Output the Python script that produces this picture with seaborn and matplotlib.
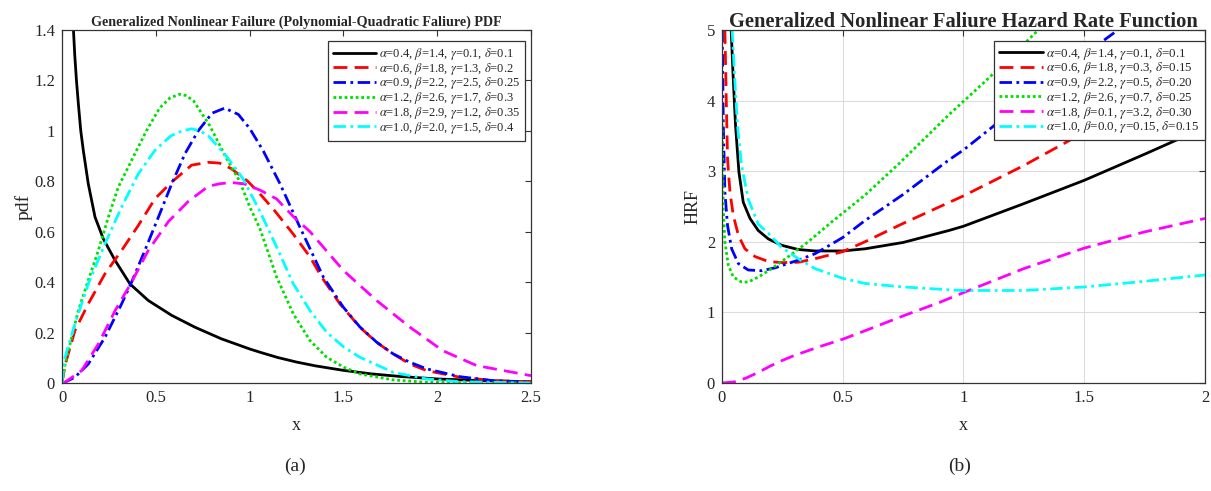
import numpy as np
import pandas as pd
import matplotlib
matplotlib.use("Agg")
import matplotlib.pyplot as plt
import seaborn as sns

# ---------------- panel (a): probability density ----------------
pdf_labels = [
    r"$\alpha$=0.4, $\beta$=1.4, $\gamma$=0.1, $\delta$=0.1",
    r"$\alpha$=0.6, $\beta$=1.8, $\gamma$=1.3, $\delta$=0.2",
    r"$\alpha$=0.9, $\beta$=2.2, $\gamma$=2.5, $\delta$=0.25",
    r"$\alpha$=1.2, $\beta$=2.6, $\gamma$=1.7, $\delta$=0.3",
    r"$\alpha$=1.8, $\beta$=2.9, $\gamma$=1.2, $\delta$=0.35",
    r"$\alpha$=1.0, $\beta$=2.0, $\gamma$=1.5, $\delta$=0.4",
]

pdf_x_black = [0.061, 0.068, 0.077, 0.088, 0.1, 0.114, 0.14, 0.176, 0.22, 0.283, 0.362,
               0.46, 0.585, 0.709, 0.85, 1.0, 1.055, 1.15, 1.25, 1.35, 1.5, 1.65, 1.8,
               2.0, 2.25, 2.5]
pdf_y_black = [1.4, 1.3, 1.2, 1.1, 1.0, 0.92, 0.79, 0.658, 0.572, 0.486, 0.393,
               0.327, 0.268, 0.221, 0.175, 0.135, 0.122, 0.101, 0.083, 0.068, 0.05, 0.036,
               0.026, 0.016, 0.009, 0.005]

pdf_x_red = [0, 0.016, 0.069, 0.14, 0.229, 0.318, 0.407, 0.496, 0.585, 0.691, 0.78, 0.84,
             0.9, 0.99, 1.055, 1.126, 1.233, 1.322, 1.384, 1.482, 1.588, 1.677, 1.766,
             1.855, 1.944, 2.12, 2.3, 2.5]
pdf_y_red = [0, 0.07, 0.208, 0.314, 0.433, 0.526, 0.625, 0.731, 0.797, 0.864, 0.875, 0.872,
             0.851, 0.8, 0.75, 0.69, 0.59, 0.5, 0.42, 0.313, 0.221, 0.161, 0.115,
             0.075, 0.049, 0.023, 0.009, 0.005]

pdf_x_blue = [0, 0.016, 0.069, 0.14, 0.229, 0.318, 0.371, 0.442, 0.514, 0.585, 0.656, 0.726,
              0.8, 0.867, 0.94, 1.0, 1.073, 1.162, 1.268, 1.393, 1.5, 1.588, 1.677, 1.766,
              1.855, 1.944, 2.12, 2.3, 2.5]
pdf_y_blue = [0, 0.003, 0.023, 0.075, 0.181, 0.314, 0.4, 0.526, 0.658, 0.79, 0.91, 1.0,
              1.07, 1.09, 1.065, 1.01, 0.92, 0.79, 0.618, 0.42, 0.30, 0.222, 0.162, 0.115,
              0.082, 0.056, 0.025, 0.009, 0.003]

pdf_x_green = [0, 0.016, 0.034, 0.087, 0.14, 0.194, 0.247, 0.3, 0.389, 0.45, 0.52, 0.575,
               0.625, 0.66, 0.7, 0.788, 0.87, 0.947, 1.0, 1.055, 1.144, 1.233, 1.322,
               1.411, 1.503, 1.588, 1.766, 1.944, 2.2, 2.5]
pdf_y_green = [0, 0.07, 0.128, 0.287, 0.407, 0.526, 0.658, 0.777, 0.91, 1.0, 1.09, 1.13,
               1.145, 1.14, 1.12, 1.02, 0.9, 0.8, 0.7, 0.612, 0.42, 0.274, 0.168,
               0.102, 0.062, 0.036, 0.012, 0.003, 0.0005, 0.0]

pdf_x_magenta = [0, 0.016, 0.105, 0.194, 0.283, 0.371, 0.46, 0.567, 0.673, 0.78, 0.84, 0.9,
                 0.97, 1.055, 1.144, 1.233, 1.322, 1.5, 1.677, 1.855, 2.03, 2.21, 2.5]
pdf_y_magenta = [0, 0.003, 0.049, 0.155, 0.287, 0.4, 0.526, 0.64, 0.72, 0.78, 0.79, 0.795,
                 0.79, 0.765, 0.73, 0.66, 0.6, 0.446, 0.327, 0.221, 0.128, 0.069, 0.029]

pdf_x_cyan = [0, 0.016, 0.069, 0.14, 0.229, 0.318, 0.407, 0.496, 0.58, 0.635, 0.69, 0.735,
              0.78, 0.876, 0.965, 1.055, 1.106, 1.144, 1.233, 1.322, 1.411, 1.503, 1.588,
              1.766, 1.944, 2.12, 2.5]
pdf_y_cyan = [0, 0.102, 0.234, 0.393, 0.552, 0.698, 0.83, 0.923, 0.98, 0.998, 1.008, 1.0,
              0.98, 0.9, 0.81, 0.68, 0.6, 0.539, 0.393, 0.287, 0.201, 0.142, 0.102,
              0.042, 0.016, 0.005, 0.0]

# ---------------- panel (b): hazard rate ----------------
hrf_labels = [
    r"$\alpha$=0.4, $\beta$=1.4, $\gamma$=0.1, $\delta$=0.1",
    r"$\alpha$=0.6, $\beta$=1.8, $\gamma$=0.3, $\delta$=0.15",
    r"$\alpha$=0.9, $\beta$=2.2, $\gamma$=0.5, $\delta$=0.20",
    r"$\alpha$=1.2, $\beta$=2.6, $\gamma$=0.7, $\delta$=0.25",
    r"$\alpha$=1.8, $\beta$=0.1, $\gamma$=3.2, $\delta$=0.30",
    r"$\alpha$=1.0, $\beta$=0.0, $\gamma$=0.15, $\delta$=0.15",
]

hrf_x_black = [0.038, 0.046, 0.056, 0.07, 0.088, 0.116, 0.15, 0.192, 0.247, 0.316, 0.385,
               0.5, 0.592, 0.75, 0.94, 1.0, 1.25, 1.5, 1.75, 2.0]
hrf_y_black = [5.0, 4.35, 3.65, 2.99, 2.56, 2.33, 2.16, 2.04, 1.95, 1.89, 1.87,
               1.87, 1.9, 1.99, 2.16, 2.22, 2.54, 2.87, 3.24, 3.62]

hrf_x_red = [0.012, 0.017, 0.023, 0.033, 0.047, 0.068, 0.095, 0.137, 0.192, 0.247, 0.316,
             0.385, 0.5, 0.592, 0.75, 1.0, 1.25, 1.5, 1.75, 2.0]
hrf_y_red = [5.0, 4.12, 3.17, 2.7, 2.37, 2.09, 1.9, 1.79, 1.72, 1.705, 1.71,
             1.76, 1.86, 2.0, 2.26, 2.65, 3.08, 3.55, 4.1, 4.75]

hrf_x_blue = [0.001, 0.0055, 0.012, 0.023, 0.04, 0.068, 0.109, 0.164, 0.219, 0.316, 0.385,
              0.5, 0.592, 0.75, 0.94, 1.0, 1.25, 1.5, 1.64]
hrf_y_blue = [5.0, 3.65, 2.7, 2.23, 1.9, 1.69, 1.6, 1.59, 1.63, 1.74, 1.83,
              2.06, 2.3, 2.67, 3.16, 3.3, 3.98, 4.65, 5.0]

hrf_x_green = [0.0, 0.003, 0.0055, 0.012, 0.026, 0.047, 0.081, 0.109, 0.15, 0.206, 0.275,
               0.357, 0.454, 0.592, 0.734, 0.94, 1.083, 1.2, 1.31]
hrf_y_green = [3.74, 3.17, 2.47, 2.0, 1.67, 1.5, 1.43, 1.43, 1.5, 1.62, 1.79,
               2.0, 2.28, 2.66, 3.11, 3.8, 4.25, 4.63, 5.0]

hrf_x_magenta = [0, 0.05, 0.1, 0.15, 0.2, 0.25, 0.3, 0.4, 0.5, 0.6, 0.75, 0.9, 1.0, 1.25,
                 1.5, 1.75, 2.0]
hrf_y_magenta = [0, 0.015, 0.07, 0.15, 0.24, 0.32, 0.39, 0.51, 0.62, 0.75, 0.95, 1.14, 1.28,
                 1.62, 1.91, 2.14, 2.33]

hrf_x_cyan = [0.042, 0.052, 0.064, 0.081, 0.109, 0.15, 0.192, 0.247, 0.316, 0.385, 0.502,
              0.592, 0.75, 0.94, 1.0, 1.25, 1.5, 1.75, 2.0]
hrf_y_cyan = [5.0, 4.35, 3.65, 3.08, 2.6, 2.25, 2.12, 1.92, 1.76, 1.62, 1.48,
              1.41, 1.36, 1.32, 1.31, 1.31, 1.36, 1.44, 1.53]

pdf_xticks = [0, 0.5, 1, 1.5, 2, 2.5]
pdf_yticks = [0, 0.2, 0.4, 0.6, 0.8, 1.0, 1.2, 1.4]
pdf_yticklabels = ["0", "0.2", "0.4", "0.6", "0.8", "1", "1.2", "1.4"]
hrf_xticks = [0, 0.5, 1, 1.5, 2]
hrf_yticks = [0, 1, 2, 3, 4, 5]

# ---------------- styling ----------------
colors = ["#000000", "#ff0000", "#0000ff", "#00e000", "#ff00ff", "#00ffff"]
styles = ["-", (0, (5, 2.6)), (0, (4.5, 1.6, 1.0, 1.6)), (0, (1.0, 1.0)),
          (0, (5, 2.6)), (0, (4.5, 1.6, 1.0, 1.6))]
frame = "#333333"

sns.set_style("white", {"axes.edgecolor": frame, "xtick.direction": "in",
                        "ytick.direction": "in"})
plt.rcParams["font.family"] = ["Liberation Serif", "DejaVu Serif"]
plt.rcParams["mathtext.fontset"] = "stix"
plt.rcParams["axes.linewidth"] = 0.9

fig = plt.figure(figsize=(12.11, 4.91), dpi=100)
ax1 = fig.add_axes([0.0512, 0.22, 0.3873, 0.719])
ax2 = fig.add_axes([0.5962, 0.22, 0.3988, 0.719])


def draw(ax, xs, ys, labels):
    for x, y, c, ls, lab in zip(xs, ys, colors, styles, labels):
        df = pd.DataFrame({"x": x, "y": y})
        sns.lineplot(data=df, x="x", y="y", ax=ax, color=c, linewidth=2.0,
                     linestyle=ls, label=lab, sort=False, estimator=None)


draw(ax1,
     [pdf_x_black, pdf_x_red, pdf_x_blue, pdf_x_green, pdf_x_magenta, pdf_x_cyan],
     [pdf_y_black, pdf_y_red, pdf_y_blue, pdf_y_green, pdf_y_magenta, pdf_y_cyan],
     pdf_labels)
draw(ax2,
     [hrf_x_black, hrf_x_red, hrf_x_blue, hrf_x_green, hrf_x_magenta, hrf_x_cyan],
     [hrf_y_black, hrf_y_red, hrf_y_blue, hrf_y_green, hrf_y_magenta, hrf_y_cyan],
     hrf_labels)

for ax in (ax1, ax2):
    ax.tick_params(axis="both", which="both", direction="in", length=4.5, width=0.8,
                   color=frame, top=True, right=True, labelsize=12, pad=5)
    for sp in ax.spines.values():
        sp.set_visible(True)
        sp.set_color(frame)

legend_kw = dict(loc="upper right", borderaxespad=0, handlelength=3.4,
                 handletextpad=0.25, labelspacing=-0.1, borderpad=0.4, frameon=True,
                 fancybox=False, framealpha=1, edgecolor=frame)

# panel (a) axes
ax1.set_xlim(0, 2.5)
ax1.set_ylim(0, 1.4)
ax1.set_xticks(pdf_xticks)
ax1.set_xticklabels(["0", "0.5", "1", "1.5", "2", "2.5"])
ax1.set_yticks(pdf_yticks)
ax1.set_yticklabels(pdf_yticklabels)
ax1.set_xlabel("x", fontsize=13, labelpad=8)
ax1.set_ylabel("pdf", fontsize=14, labelpad=1)
ax1.set_title("Generalized Nonlinear Failure (Polynomial-Quadratic Faliure) PDF",
              fontsize=10.2, fontweight="bold", pad=3)
leg1 = ax1.legend(bbox_to_anchor=(0.987, 0.969), fontsize=9, **legend_kw)
leg1.get_frame().set_linewidth(0.9)

# panel (b) axes
ax2.set_xlim(0, 2)
ax2.set_ylim(0, 5)
ax2.set_xticks(hrf_xticks)
ax2.set_xticklabels(["0", "0.5", "1", "1.5", "2"])
ax2.set_yticks(hrf_yticks)
ax2.grid(True, color="#dcdcdc", linewidth=0.8)
ax2.set_axisbelow(True)
ax2.set_xlabel("x", fontsize=13, labelpad=8)
ax2.set_ylabel("HRF", fontsize=13, labelpad=4)
ax2.set_title("Generalized Nonlinear Faliure Hazard Rate Function",
              fontsize=14.8, fontweight="bold", pad=2)
leg2 = ax2.legend(bbox_to_anchor=(1.0, 0.97), fontsize=9.4, **legend_kw)
leg2.get_frame().set_linewidth(0.9)

fig.text(295 / 1211, 1 - 466 / 491, "(a)", ha="center", va="center", fontsize=14)
fig.text(960 / 1211, 1 - 466 / 491, "(b)", ha="center", va="center", fontsize=14)

fig.savefig("out.png", dpi=100)
